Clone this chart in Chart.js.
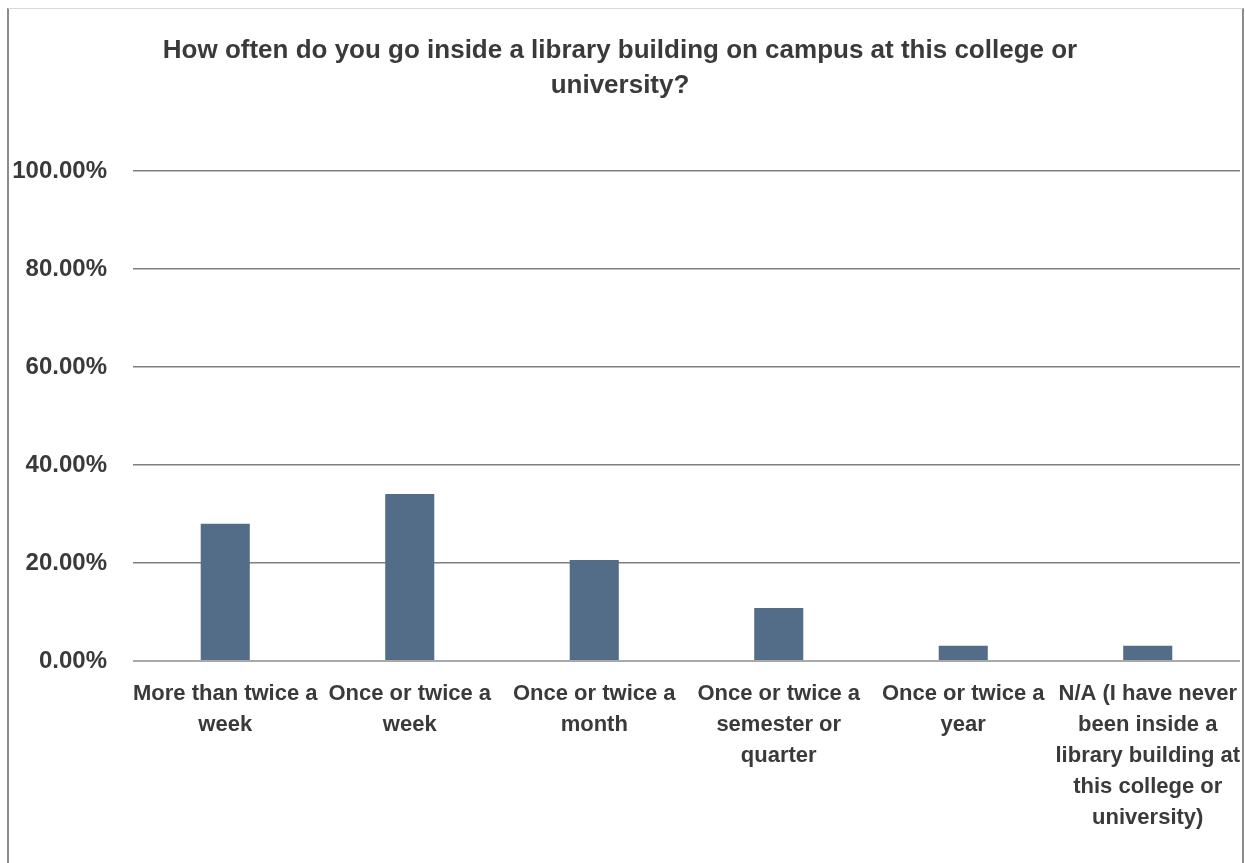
<!DOCTYPE html>
<html>
<head>
<meta charset="utf-8">
<script src="https://cdn.jsdelivr.net/npm/chart.js@4/dist/chart.umd.min.js"></script>
<style>
  html, body { margin: 0; padding: 0; background: #ffffff; }
  #wrap { position: relative; width: 1245px; height: 863px; overflow: hidden; }
  #chart { position: absolute; left: 0; top: 0; }
  #frame {
    position: absolute; left: 7px; top: 8px; right: 1px; bottom: -2px;
    box-sizing: border-box;
    border-left: 2px solid #8c8c8c; border-right: 2px solid #8c8c8c; border-top: 1px solid #d9d9d9;
    pointer-events: none;
  }
</style>
</head>
<body>
<div id="wrap">
  <canvas id="chart" width="1245" height="863"></canvas>
  <div id="frame"></div>
</div>
<script>
const titleLines = [
  "How often do you go inside a library building on campus at this college or",
  "university?"
];
const categories = [
  ["More than twice a", "week"],
  ["Once or twice a", "week"],
  ["Once or twice a", "month"],
  ["Once or twice a", "semester or", "quarter"],
  ["Once or twice a", "year"],
  ["N/A (I have never", "been inside a", "library building at", "this college or", "university)"]
];
const percentValues = [28.0, 34.1, 20.6, 10.8, 3.1, 3.1];
const yTickValues = [0, 20, 40, 60, 80, 100];
const yTickLabels = ["0.00%", "20.00%", "40.00%", "60.00%", "80.00%", "100.00%"];

const FONT = "'Liberation Sans', Arial, sans-serif";
const TEXT = '#3a3a3a';

new Chart(document.getElementById('chart'), {
  type: 'bar',
  data: {
    labels: categories,
    datasets: [{
      data: percentValues,
      backgroundColor: '#536d88',
      borderWidth: 0,
      categoryPercentage: 1.0,
      barPercentage: 0.266
    }]
  },
  options: {
    responsive: false,
    animation: false,
    devicePixelRatio: 1,
    layout: { padding: { left: 0, right: 5, top: 0, bottom: 0 } },
    plugins: {
      legend: { display: false },
      tooltip: { enabled: false },
      title: {
        display: true,
        text: titleLines,
        color: TEXT,
        font: { family: FONT, size: 26, weight: 'bold', lineHeight: 35 / 26 },
        padding: { top: 33.5, bottom: 67.5 }
      }
    },
    scales: {
      x: {
        grid: { display: false, drawTicks: false },
        border: { display: false },
        ticks: {
          color: TEXT,
          font: { family: FONT, size: 22, weight: 'bold', lineHeight: 31 / 22 },
          padding: 17,
          maxRotation: 0,
          minRotation: 0,
          autoSkip: false
        },
        afterFit: (s) => { s.height = 202; s.paddingLeft = 0; s.paddingRight = 0; }
      },
      y: {
        min: 0,
        max: 100,
        afterBuildTicks: (s) => { s.ticks = yTickValues.map(v => ({ value: v })); },
        grid: {
          drawTicks: false,
          color: (c) => (c.tick && c.tick.value === 0) ? '#a9a9a9' : '#7f7f7f',
          lineWidth: (c) => (c.tick && c.tick.value === 0) ? 2 : 1.5
        },
        border: { display: false },
        ticks: {
          color: TEXT,
          font: { family: FONT, size: 24, weight: 'bold' },
          padding: 26,
          callback: (v) => yTickLabels[yTickValues.indexOf(v)]
        },
        afterFit: (s) => { s.width = 133; s.paddingTop = 0; s.paddingBottom = 0; }
      }
    }
  }
});
</script>
</body>
</html>
